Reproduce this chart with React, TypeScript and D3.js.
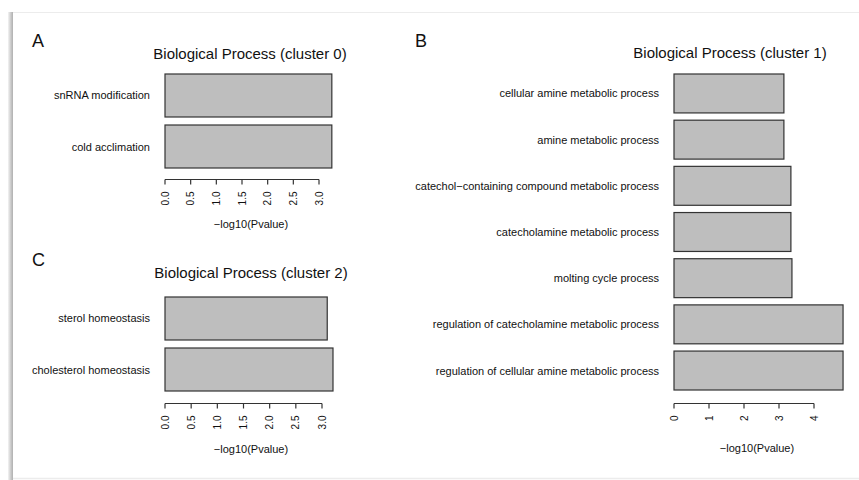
import React from "react";
import * as d3 from "d3";

const catsA = ["snRNA modification", "cold acclimation"];
const valsA = [3.25, 3.25];
const ticksA = [0, 0.5, 1, 1.5, 2, 2.5, 3];

const catsB = [
  "cellular amine metabolic process",
  "amine metabolic process",
  "catechol\u2212containing compound metabolic process",
  "catecholamine metabolic process",
  "molting cycle process",
  "regulation of catecholamine metabolic process",
  "regulation of cellular amine metabolic process",
];
const valsB = [3.14, 3.14, 3.34, 3.34, 3.37, 4.83, 4.83];
const ticksB = [0, 1, 2, 3, 4];

const catsC = ["sterol homeostasis", "cholesterol homeostasis"];
const valsC = [3.1, 3.21];
const ticksC = [0, 0.5, 1, 1.5, 2, 2.5, 3];

const FONT = "'Liberation Sans', Arial, Helvetica, sans-serif";

type PanelProps = {
  letter: string;
  letterX: number;
  letterY: number;
  title: string;
  titleX: number;
  titleY: number;
  cats: string[];
  vals: number[];
  ticks: number[];
  tickFmt: (v: number) => string;
  xDomain: [number, number];
  xRange: [number, number];
  yRange: [number, number];
  axisY: number;
  xlabX: number;
  xlabY: number;
};

function Panel(p: PanelProps) {
  const x = d3.scaleLinear().domain(p.xDomain).range(p.xRange);
  const y = d3.scaleBand<string>().domain(p.cats).range(p.yRange).paddingInner(0.157).paddingOuter(0);
  const x0 = x(0);
  return (
    <g fontFamily={FONT}>
      <text x={p.letterX} y={p.letterY} fontSize={18} fill="#111">{p.letter}</text>
      <text x={p.titleX} y={p.titleY} fontSize={15} textAnchor="middle" fill="#111">{p.title}</text>
      {p.cats.map((c, i) => (
        <g key={c}>
          <rect
            x={x0}
            y={y(c)!}
            width={x(p.vals[i]) - x0}
            height={y.bandwidth()}
            fill="#bebebe"
            stroke="#333"
            strokeWidth={1.2}
          />
          <text
            x={x0 - 15}
            y={y(c)! + y.bandwidth() / 2}
            fontSize={11}
            textAnchor="end"
            dominantBaseline="central"
            fill="#111"
          >
            {c}
          </text>
        </g>
      ))}
      <line
        x1={x(p.ticks[0])}
        x2={x(p.ticks[p.ticks.length - 1])}
        y1={p.axisY}
        y2={p.axisY}
        stroke="#333"
        strokeWidth={1.2}
      />
      {p.ticks.map((t) => (
        <g key={t}>
          <line x1={x(t)} x2={x(t)} y1={p.axisY} y2={p.axisY + 5} stroke="#333" strokeWidth={1.2} />
          <text
            transform={`translate(${x(t) + 3.5},${p.axisY + 12}) rotate(-90)`}
            fontSize={10}
            textAnchor="end"
            fill="#111"
          >
            {p.tickFmt(t)}
          </text>
        </g>
      ))}
      <text x={p.xlabX} y={p.xlabY} fontSize={11} textAnchor="middle" fill="#111">
        {"\u2212log10(Pvalue)"}
      </text>
    </g>
  );
}

export default function App() {
  const f1 = (v: number) => v.toFixed(1);
  const f0 = (v: number) => String(v);
  return (
    <svg
      width={859}
      height={480}
      style={{ position: "absolute", left: 0, top: 0, background: "#fff" }}
    >
      <defs>
        <linearGradient id="edge" x1="0" x2="1" y1="0" y2="0">
          <stop offset="0" stopColor="#f4f4f4" />
          <stop offset="0.6" stopColor="#c8c8c8" />
          <stop offset="1" stopColor="#b0b0b0" />
        </linearGradient>
      </defs>
      <rect x={0} y={0} width={859} height={480} fill="#fff" />
      <line x1={12} x2={859} y1={12.5} y2={12.5} stroke="#ececec" strokeWidth={1} />
      <line x1={12} x2={859} y1={478.5} y2={478.5} stroke="#ececec" strokeWidth={1.5} />
      <rect x={8} y={12} width={5} height={468} fill="url(#edge)" />
      <Panel
        letter="A"
        letterX={32}
        letterY={47}
        title="Biological Process (cluster 0)"
        titleX={250}
        titleY={59}
        cats={catsA}
        vals={valsA}
        ticks={ticksA}
        tickFmt={f1}
        xDomain={[0, 3]}
        xRange={[165, 319]}
        yRange={[74, 168]}
        axisY={179.5}
        xlabX={251}
        xlabY={228}
      />
      <Panel
        letter="B"
        letterX={415}
        letterY={47}
        title="Biological Process (cluster 1)"
        titleX={730}
        titleY={58}
        cats={catsB}
        vals={valsB}
        ticks={ticksB}
        tickFmt={f0}
        xDomain={[0, 4]}
        xRange={[674, 814]}
        yRange={[74, 390]}
        axisY={403.5}
        xlabX={757}
        xlabY={452}
      />
      <Panel
        letter="C"
        letterX={32}
        letterY={266}
        title="Biological Process (cluster 2)"
        titleX={251}
        titleY={278}
        cats={catsC}
        vals={valsC}
        ticks={ticksC}
        tickFmt={f1}
        xDomain={[0, 3]}
        xRange={[165, 322]}
        yRange={[297, 391]}
        axisY={403.5}
        xlabX={251}
        xlabY={453}
      />
    </svg>
  );
}
